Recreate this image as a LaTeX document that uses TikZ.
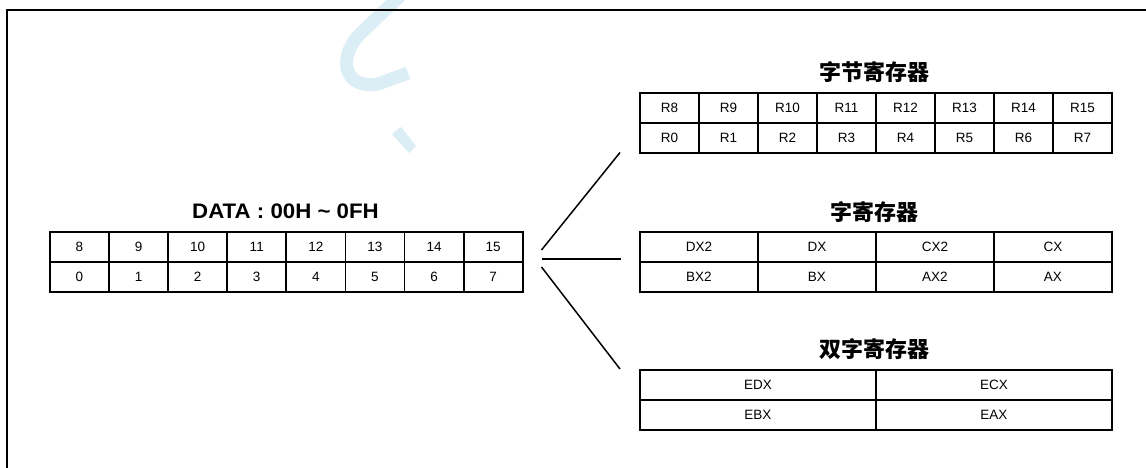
\documentclass[tikz,border=0pt]{standalone}
\usepackage{fontspec}
\setmainfont{Liberation Sans}
\newfontfamily\cjk{Noto Sans CJK SC}
\definecolor{wm}{RGB}{220,238,245}
\begin{document}
\begin{tikzpicture}[x=1pt,y=-1pt,
  cell/.style={draw,line width=1.8pt,rectangle,inner sep=0pt,minimum height=30pt,anchor=north west,font=\fontsize{13.5}{15}\selectfont},
  ttl/.style={font=\fontsize{22}{25}\selectfont\cjk\bfseries},
  conn/.style={line width=1.5pt}]
\useasboundingbox (0,0) rectangle (1146,468);
\clip (0,0) rectangle (1146,468);
\fill[white] (0,0) rectangle (1146,468);
% watermark fragments
\draw[wm,line width=13pt] (400,-4) -- (362,32) .. controls (335,58) and (345,90) .. (378,84) -- (408,73);
\fill[wm] (392,134) -- (401,127) -- (416,146) -- (409,153) -- cycle;
% frame
\draw[line width=2pt] (1160,10) -- (7,10) -- (7,480);
% left data table
\node[font=\fontsize{21}{24}\selectfont\bfseries] (dtitle) at (285.5,211) {\scalebox{1.06}[1]{DATA : 00H \textasciitilde{} 0FH}};
\foreach \t [count=\i from 0] in {8,9,10,11,12,13,14,15}
  \node[cell,minimum width=59.1pt] (Lt\i) at ({49+59.1*\i},231) {\t};
\foreach \t [count=\i from 0] in {0,1,2,3,4,5,6,7}
  \node[cell,minimum width=59.1pt] (Lb\i) at ({49+59.1*\i},261) {\t};
% byte registers
\node[ttl] (btitle) at (874.5,72) {字节寄存器};
\foreach \t [count=\i from 0] in {R8,R9,R10,R11,R12,R13,R14,R15}
  \node[cell,minimum width=59pt] (Bt\i) at ({639+59*\i},92) {\t};
\foreach \t [count=\i from 0] in {R0,R1,R2,R3,R4,R5,R6,R7}
  \node[cell,minimum width=59pt] (Bb\i) at ({639+59*\i},122) {\t};
% word registers
\node[ttl] (wtitle) at (874.5,212) {字寄存器};
\foreach \t [count=\i from 0] in {DX2,DX,CX2,CX}
  \node[cell,minimum width=118pt] (Wt\i) at ({639+118*\i},231) {\t};
\foreach \t [count=\i from 0] in {BX2,BX,AX2,AX}
  \node[cell,minimum width=118pt] (Wb\i) at ({639+118*\i},261) {\t};
% double word registers
\node[ttl] (dwtitle) at (874.5,349) {双字寄存器};
\foreach \t [count=\i from 0] in {EDX,ECX}
  \node[cell,minimum width=236pt] (Dt\i) at ({639+236*\i},369) {\t};
\foreach \t [count=\i from 0] in {EBX,EAX}
  \node[cell,minimum width=236pt] (Db\i) at ({639+236*\i},399) {\t};
% connectors
\coordinate (u0) at (541.5,250);
\coordinate (u1) at (620,152.5);
\coordinate (m0) at (541.5,259);
\coordinate (m1) at (620.5,259);
\coordinate (l0) at (541.5,267);
\coordinate (l1) at (620,369);
\draw[conn] (u0) -- (u1);
\draw[conn] (m0) -- (m1);
\draw[conn] (l0) -- (l1);
\end{tikzpicture}
\end{document}
